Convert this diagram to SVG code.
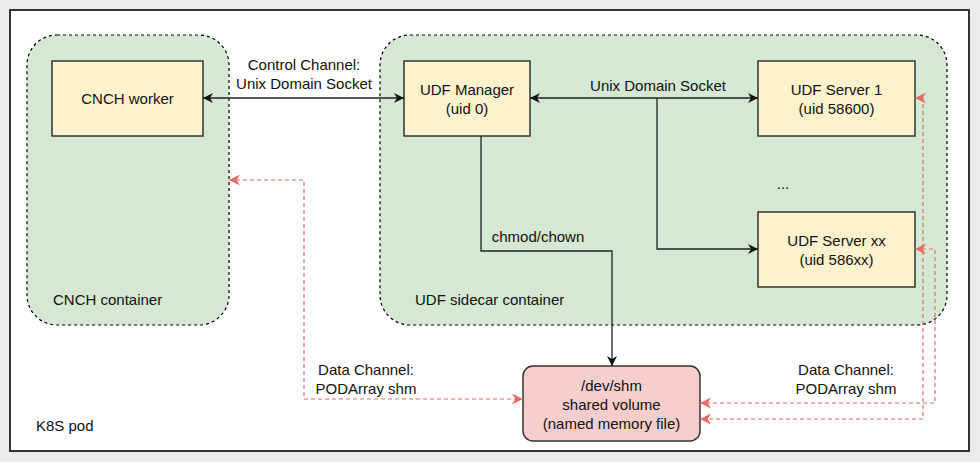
<svg xmlns="http://www.w3.org/2000/svg" width="980" height="462" viewBox="0 0 980 462">
<style>
text{font-family:"Liberation Sans",Arial,Helvetica,sans-serif;font-size:15px;fill:#111}
.c{text-anchor:middle}
.cont{fill:#d5e8d4;stroke:#000;stroke-width:1.2;stroke-dasharray:3 3}
.node{fill:#fff2cc;stroke:#333;stroke-width:1.5}
.shm{fill:#f8cecc;stroke:#333;stroke-width:1.5}
.line{fill:none;stroke:#222;stroke-width:1.3}
.data{fill:none;stroke:#ea6b66;stroke-width:1.2;stroke-dasharray:4 3}
</style>
<defs>
<marker id="ab" viewBox="0 0 10 10" refX="10" refY="5" markerWidth="10" markerHeight="10" markerUnits="userSpaceOnUse" orient="auto-start-reverse">
<path d="M0,0 L10,5 L0,10 L3,5 Z" fill="#111"/>
</marker>
<marker id="ar" viewBox="0 0 10 10" refX="10" refY="5" markerWidth="11" markerHeight="11" markerUnits="userSpaceOnUse" orient="auto-start-reverse">
<path d="M0,0 L10,5 L0,10 L3,5 Z" fill="#ea6b66"/>
</marker>
</defs>
<rect x="0" y="0" width="980" height="462" fill="#ebebeb"/>
<g id="k8s-pod">
<rect x="10" y="10" width="959" height="441" fill="#fff" stroke="#333" stroke-width="2"/>
<text x="36" y="431">K8S pod</text>
</g>
<g id="cnch-container">
<rect class="cont" x="27" y="35" width="202" height="290" rx="30"/>
<text x="53" y="305">CNCH container</text>
</g>
<g id="udf-sidecar-container">
<rect class="cont" x="380" y="35" width="567" height="290" rx="30"/>
<text x="415" y="305">UDF sidecar container</text>
</g>
<g id="cnch-worker">
<rect class="node" x="52" y="61" width="151" height="75"/>
<text class="c" x="127.5" y="104">CNCH worker</text>
</g>
<g id="udf-manager">
<rect class="node" x="404" y="61" width="126" height="75"/>
<text class="c" x="467" y="95">UDF Manager</text>
<text class="c" x="467" y="114">(uid 0)</text>
</g>
<g id="udf-server-1">
<rect class="node" x="758" y="61" width="157" height="75"/>
<text class="c" x="836.5" y="95">UDF Server 1</text>
<text class="c" x="836.5" y="114">(uid 58600)</text>
</g>
<g id="ellipsis">
<text class="c" x="783" y="189">...</text>
</g>
<g id="udf-server-xx">
<rect class="node" x="758" y="212" width="157" height="75"/>
<text class="c" x="836.5" y="246">UDF Server xx</text>
<text class="c" x="836.5" y="265">(uid 586xx)</text>
</g>
<g id="dev-shm">
<rect class="shm" x="523" y="366" width="177" height="75" rx="10"/>
<text class="c" x="611.5" y="391">/dev/shm</text>
<text class="c" x="611.5" y="410">shared volume</text>
<text class="c" x="611.5" y="429">(named memory file)</text>
</g>
<g id="connectors">
<path class="line" d="M203,98 H404" marker-start="url(#ab)" marker-end="url(#ab)"/>
<text class="c" x="304" y="70">Control Channel:</text>
<text class="c" x="304" y="89">Unix Domain Socket</text>
<path class="line" d="M530,98 H758" marker-start="url(#ab)" marker-end="url(#ab)"/>
<text class="c" x="658" y="91">Unix Domain Socket</text>
<path class="line" d="M657,98 V249 H758" marker-end="url(#ab)"/>
<path class="line" d="M481,136 V251 H612 V366" marker-end="url(#ab)"/>
<text class="c" x="538" y="242">chmod/chown</text>
<path class="data" d="M229,180 H304 V399 H523" marker-start="url(#ar)" marker-end="url(#ar)"/>
<text class="c" x="366" y="375">Data Channel:</text>
<text class="c" x="366" y="394">PODArray shm</text>
<path class="data" d="M915,98 H923 V419 H700" marker-start="url(#ar)" marker-end="url(#ar)"/>
<path class="data" d="M915,249 H935 V403 H700" marker-start="url(#ar)" marker-end="url(#ar)"/>
<text class="c" x="846" y="375">Data Channel:</text>
<text class="c" x="846" y="394">PODArray shm</text>
</g>
</svg>
